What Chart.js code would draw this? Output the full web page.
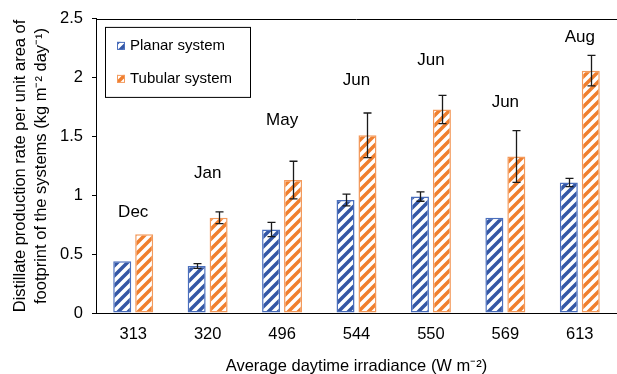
<!DOCTYPE html>
<html>
<head>
<meta charset="utf-8">
<script src="https://cdn.jsdelivr.net/npm/chart.js@4.4.1/dist/chart.umd.min.js"></script>
<style>
  html, body { margin: 0; padding: 0; background: #fff; }
</style>
</head>
<body>
<canvas id="chart" width="617" height="374"></canvas>
<script>
// data
const irradiance = ["313", "320", "496", "544", "550", "569", "613"];
const months = ["Dec", "Jan", "May", "Jun", "Jun", "Jun", "Aug"];
const monthLabelLevel = [0.86, 1.19, 1.64, 1.98, 2.15, 1.79, 2.34];
const planar = [0.44, 0.40, 0.71, 0.96, 0.99, 0.81, 1.11];
const planarErr = [0, 0.02, 0.06, 0.05, 0.04, 0, 0.035];
const tubular = [0.67, 0.81, 1.13, 1.51, 1.73, 1.33, 2.06];
const tubularErr = [0, 0.05, 0.16, 0.19, 0.12, 0.22, 0.13];
const yTicks = [0, 0.5, 1, 1.5, 2, 2.5];

const FONT = "'Liberation Sans', Arial, Helvetica, sans-serif";
Chart.defaults.font.family = FONT;
Chart.defaults.color = "#000";

const canvas = document.getElementById("chart");
const mainCtx = canvas.getContext("2d");

// diagonal hatch fill like the Excel pattern
function stripes(color) {
  const c = document.createElement("canvas");
  c.width = 10;
  c.height = 10;
  const g = c.getContext("2d");
  g.fillStyle = "#fff";
  g.fillRect(0, 0, 10, 10);
  g.strokeStyle = color;
  g.lineWidth = 3.5;
  g.beginPath();
  g.moveTo(-5, 5); g.lineTo(5, -5);
  g.moveTo(0, 10); g.lineTo(10, 0);
  g.moveTo(5, 15); g.lineTo(15, 5);
  g.stroke();
  return mainCtx.createPattern(c, "repeat");
}

const blueFill = stripes("#3457a6");
const orangeFill = stripes("#f07f2e");

const extras = {
  id: "extras",
  afterDatasetsDraw(chart) {
    const { ctx, chartArea, scales: { x, y } } = chart;
    ctx.save();

    // top frame line
    ctx.strokeStyle = "#000";
    ctx.lineWidth = 1;
    ctx.beginPath();
    ctx.moveTo(chartArea.left, Math.round(chartArea.top) + 0.5);
    ctx.lineTo(chartArea.right, Math.round(chartArea.top) + 0.5);
    ctx.stroke();

    // error bars
    ctx.strokeStyle = "#1a1a1a";
    ctx.lineWidth = 1.3;
    [planarErr, tubularErr].forEach((errs, di) => {
      const meta = chart.getDatasetMeta(di);
      const vals = chart.data.datasets[di].data;
      meta.data.forEach((bar, i) => {
        if (!errs[i]) return;
        const cx = Math.round(bar.x) + 0.5;
        const yTop = y.getPixelForValue(vals[i] + errs[i]);
        const yBot = y.getPixelForValue(vals[i] - errs[i]);
        ctx.beginPath();
        ctx.moveTo(cx, yTop); ctx.lineTo(cx, yBot);
        ctx.moveTo(cx - 4, yTop); ctx.lineTo(cx + 4, yTop);
        ctx.moveTo(cx - 4, yBot); ctx.lineTo(cx + 4, yBot);
        ctx.stroke();
      });
    });

    // month labels above each group
    ctx.fillStyle = "#000";
    ctx.font = "17px " + FONT;
    ctx.textAlign = "center";
    ctx.textBaseline = "middle";
    months.forEach((m, i) => {
      ctx.fillText(m, x.getPixelForValue(i), y.getPixelForValue(monthLabelLevel[i]));
    });

    // legend box inside plot
    const lx = chartArea.left + 9, ly = chartArea.top + 8;
    ctx.fillStyle = "#fff";
    ctx.fillRect(lx, ly, 145, 70);
    ctx.strokeStyle = "#000";
    ctx.lineWidth = 1;
    ctx.strokeRect(lx + 0.5, ly + 0.5, 145, 70);
    ctx.font = "15px " + FONT;
    ctx.textAlign = "left";
    chart.data.datasets.forEach((ds, i) => {
      const cy = ly + 19 + i * 33;
      ctx.fillStyle = ds.backgroundColor;
      ctx.fillRect(lx + 12, cy - 4, 8, 8);
      ctx.strokeStyle = ds.borderColor;
      ctx.strokeRect(lx + 12.5, cy - 3.5, 7, 7);
      ctx.fillStyle = "#000";
      ctx.fillText(ds.label, lx + 25, cy);
    });

    ctx.restore();
  }
};

new Chart(canvas, {
  type: "bar",
  data: {
    labels: irradiance,
    datasets: [
      {
        label: "Planar system",
        data: planar,
        backgroundColor: blueFill,
        borderColor: "#4b6fbd",
        borderWidth: 1.5,
        borderSkipped: false,
        categoryPercentage: 0.59,
        barPercentage: 0.82,
      },
      {
        label: "Tubular system",
        data: tubular,
        backgroundColor: orangeFill,
        borderColor: "#f39a5c",
        borderWidth: 1.5,
        borderSkipped: false,
        categoryPercentage: 0.59,
        barPercentage: 0.82,
      },
    ],
  },
  options: {
    responsive: false,
    animation: false,
    devicePixelRatio: 1,
    layout: { padding: { top: 18, right: 0, left: 0, bottom: 0 } },
    plugins: { legend: { display: false }, tooltip: { enabled: false } },
    scales: {
      x: {
        afterFit: (s) => { s.height = 61; },
        border: { display: true, color: "#000", width: 1 },
        grid: { display: false },
        ticks: { color: "#000", font: { size: 16.5 }, padding: 4 },
        title: {
          display: true,
          text: "Average daytime irradiance (W m\u207B\u00B2)",
          color: "#000",
          font: { size: 16.5, lineHeight: 0.9 },
          padding: { top: 0, bottom: 0 },
        },
      },
      y: {
        min: 0,
        max: 2.5,
        afterFit: (s) => { s.width = 96; },
        afterBuildTicks: (s) => { s.ticks = yTicks.map((v) => ({ value: v })); },
        border: { display: true, color: "#000", width: 1 },
        grid: { display: true, drawOnChartArea: false, drawTicks: true, tickLength: 4, color: "#000" },
        ticks: { color: "#000", font: { size: 16.5 }, padding: 9, callback: (v) => String(v) },
        title: {
          display: true,
          text: [
            "Distillate production rate per unit area of",
            "footprint of the systems (kg m\u207B\u00B2 day\u207B\u00B9)",
          ],
          color: "#000",
          font: { size: 16.5, lineHeight: 1.27 },
          padding: { top: 10, bottom: 0 },
        },
      },
    },
  },
  plugins: [extras],
});
</script>
</body>
</html>
